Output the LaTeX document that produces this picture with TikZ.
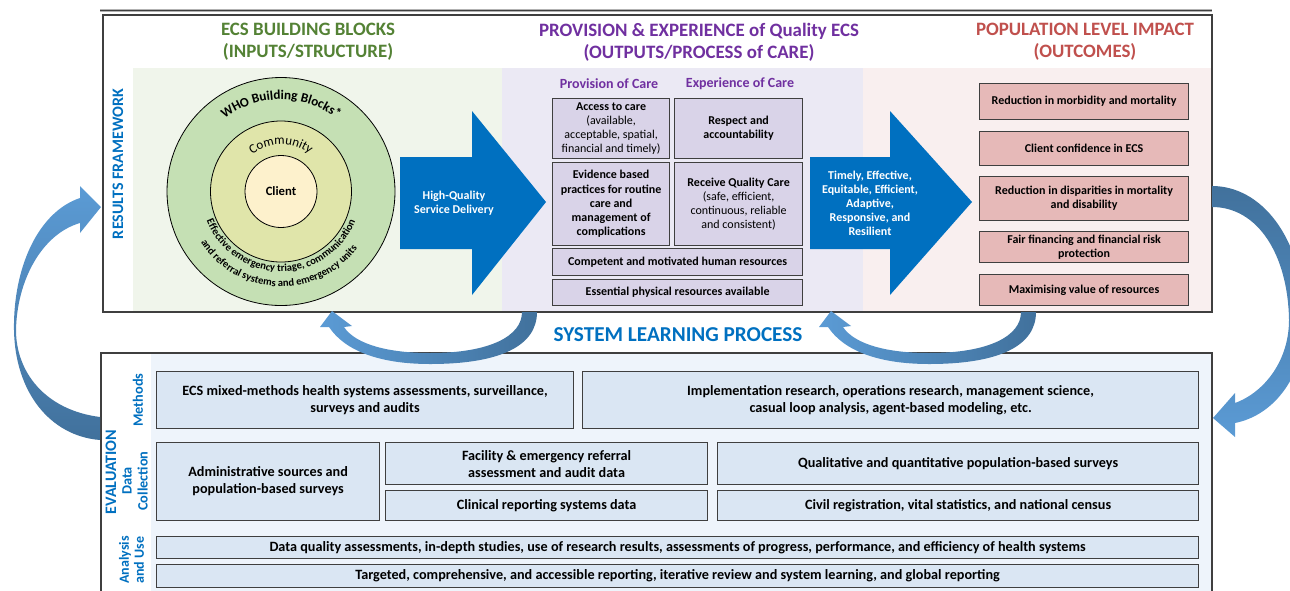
\documentclass[tikz,border=0pt]{standalone}
\usepackage{fontspec}
\setmainfont{Carlito}
\usetikzlibrary{decorations.text}
\definecolor{ecsgreen}{HTML}{548235}
\definecolor{ecspurple}{HTML}{7030A0}
\definecolor{ecsred}{HTML}{C0504D}
\definecolor{ecsblue}{HTML}{0070C0}
\definecolor{greenbg}{HTML}{F0F5EB}
\definecolor{purplebg}{HTML}{EBE9F4}
\definecolor{pinkbg}{HTML}{F9EFEF}
\definecolor{purplebox}{HTML}{D9D3E8}
\definecolor{pinkbox}{HTML}{E6B9B8}
\definecolor{bluebg}{HTML}{EEF4FB}
\definecolor{bluebox}{HTML}{DAE6F3}
\definecolor{boxline}{HTML}{3F3F3F}
\definecolor{ringA}{HTML}{C5E0B4}
\definecolor{ringB}{HTML}{E0E5AA}
\definecolor{ringC}{HTML}{FDF1CC}
\definecolor{arrdark}{HTML}{41719C}
\definecolor{arrlight}{HTML}{5B9BD5}
\tikzset{
  basebox/.style={draw=boxline, line width=1.2pt, inner sep=0pt, anchor=north west, align=center},
  pbox/.style={basebox, fill=purplebox, font=\fontsize{12}{14}\selectfont},
  pboxb/.style={pbox, font=\bfseries\fontsize{12}{14}\selectfont},
  obox/.style={basebox, fill=pinkbox, font=\bfseries\fontsize{12}{14}\selectfont},
  ebox/.style={basebox, fill=bluebox, font=\bfseries\fontsize{14.2}{17}\selectfont},
  head/.style={font=\bfseries\fontsize{18.9}{22}\selectfont, align=center},
  subhead/.style={font=\bfseries\fontsize{14}{16}\selectfont, text=ecspurple},
  arrtext/.style={font=\bfseries\fontsize{12}{14}\selectfont, text=white, align=center},
  sidelabel/.style={font=\bfseries, text=ecsblue, rotate=90, align=center},
}
\begin{document}
\begin{tikzpicture}[x=1pt,y=-1pt]
\useasboundingbox (0,0) rectangle (1290,590);
% top rule
\draw[gray!60, line width=3.5pt] (100,10.5) -- (1212,10.5);
\draw[black!75, line width=1pt] (100,10.5) -- (1212,10.5);

% ---------------- top frame ----------------
\fill[white] (103,15) rectangle (1212,312);
\fill[greenbg] (133,68) rectangle (502,311);
\fill[purplebg] (502,68) rectangle (863,311);
\fill[pinkbg] (863,68) rectangle (1211,311);
\draw[boxline, line width=1.3pt] (103,15) rectangle (1212,312);

\node[head, text=ecsgreen] (h1) at (308,42) {ECS BUILDING BLOCKS\\(INPUTS/STRUCTURE)};
\node[head, text=ecspurple] (h2) at (699,42) {PROVISION \& EXPERIENCE of Quality ECS\\(OUTPUTS/PROCESS of CARE)};
\node[head, text=ecsred] (h3) at (1085,42) {POPULATION LEVEL IMPACT\\(OUTCOMES)};
\node[sidelabel, font=\bfseries\fontsize{16}{18}\selectfont] (rf) at (118,164) {RESULTS FRAMEWORK};

% circles
\coordinate (cc) at (281,191.5);
\filldraw[fill=ringA, draw=black, line width=0.8pt] (cc) circle[radius=114pt];
\filldraw[fill=ringB, draw=black, line width=0.8pt] (cc) circle[radius=70.5pt];
\filldraw[fill=ringC, draw=black, line width=0.8pt] (cc) circle[radius=36pt];
\node[font=\bfseries\fontsize{12.7}{14}\selectfont] (client) at (cc) {Client};
\path[decorate, decoration={text along path, text align=center,
  text={|\bfseries\fontsize{13.2}{15}\selectfont|WHO Building Blocks*}}]
  (cc) ++(165:92pt) arc[start angle=165, end angle=15, radius=92pt];
\path[decorate, decoration={text along path, text align=center,
  text={|\fontsize{13}{15}\selectfont|Community}}]
  (cc) ++(155:47pt) arc[start angle=155, end angle=25, radius=47pt];
\path[decorate, decoration={text along path, text align=center,
  text={|\bfseries\fontsize{10.6}{12}\selectfont|Effective emergency triage, communication}}]
  (cc) ++(190:80pt) arc[start angle=190, end angle=350, radius=80pt];
\path[decorate, decoration={text along path, text align=center,
  text={|\bfseries\fontsize{10.6}{12}\selectfont|and referral systems and emergency units}}]
  (cc) ++(198:95pt) arc[start angle=198, end angle=338, radius=95pt];

% big arrows
\fill[ecsblue] (400,157) -- (472,157) -- (472,111) -- (546,202) -- (472,295) -- (472,249) -- (400,249) -- cycle;
\node[arrtext] (hq) at (454,203) {High-Quality\\Service Delivery};
\fill[ecsblue] (810,157) -- (890,157) -- (890,111) -- (972,202) -- (890,295) -- (890,249) -- (810,249) -- cycle;
\node[arrtext] (tq) at (870,203) {Timely, Effective,\\Equitable, Efficient,\\Adaptive,\\Responsive, and\\Resilient};

% provision / experience
\node[subhead] (poc) at (609,84) {Provision of Care};
\node[subhead] (eoc) at (740,84) {Experience of Care};
\node[pbox, minimum width=117pt, minimum height=60pt] (acc) at (552,98)
  {\textbf{Access to care}\\(available,\\acceptable, spatial,\\financial and timely)};
\node[pboxb, minimum width=128pt, minimum height=60pt] (resp) at (674,98)
  {Respect and\\accountability};
\node[pboxb, font=\bfseries\fontsize{12}{14.3}\selectfont, minimum width=117pt, minimum height=83pt] (evid) at (552,162)
  {Evidence based\\practices for routine\\care and\\management of\\complications};
\node[pbox, minimum width=128pt, minimum height=83pt] (recv) at (674,162)
  {\textbf{Receive Quality Care}\\(safe, efficient,\\continuous, reliable\\and consistent)};
\node[pboxb, minimum width=250pt, minimum height=27pt] (comp) at (552,248)
  {Competent and motivated human resources};
\node[pboxb, minimum width=250pt, minimum height=26pt] (ess) at (552,279)
  {Essential physical resources available};

% outcomes
\node[obox, minimum width=209pt, minimum height=36pt] (o1) at (979,83) {Reduction in morbidity and mortality};
\node[obox, minimum width=209pt, minimum height=34pt] (o2) at (979,131) {Client confidence in ECS};
\node[obox, minimum width=209pt, minimum height=44pt] (o3) at (979,176) {Reduction in disparities in mortality\\and disability};
\node[obox, minimum width=209pt, minimum height=31pt] (o4) at (979,231) {Fair financing and financial risk\\protection};
\node[obox, minimum width=209pt, minimum height=31pt] (o5) at (979,274) {Maximising value of resources};

% ---------------- system learning ----------------
\node[font=\bfseries\fontsize{21.2}{23}\selectfont, text=ecsblue] (slp) at (678,335) {SYSTEM LEARNING PROCESS};

% ---------------- bottom frame ----------------
\fill[white] (101,353) rectangle (1212,600);
\fill[bluebg] (151,354) rectangle (1211,600);
\draw[boxline, line width=1.3pt] (101,353) rectangle (1212,600);

\node[sidelabel, font=\bfseries\fontsize{16}{18}\selectfont] (ev) at (111,472) {EVALUATION};
\node[sidelabel, font=\bfseries\fontsize{14.3}{16}\selectfont] (meth) at (138,400) {Methods};
\node[sidelabel, font=\bfseries\fontsize{14.3}{16}\selectfont] (dc) at (135,481) {Data\\Collection};
\node[sidelabel, font=\bfseries\fontsize{14}{15}\selectfont] (au) at (131.5,560) {Analysis\\and Use};

\node[ebox, minimum width=417pt, minimum height=57pt] (m1) at (156,371)
  {ECS mixed-methods health systems assessments, surveillance,\\surveys and audits};
\node[ebox, minimum width=616pt, minimum height=57pt] (m2) at (582,371)
  {Implementation research, operations research, management science,\\casual loop analysis, agent-based modeling, etc.};
\node[ebox, minimum width=223pt, minimum height=78pt] (d1) at (156,442)
  {Administrative sources and\\population-based surveys};
\node[ebox, minimum width=322pt, minimum height=42pt] (d2) at (385,442)
  {Facility \& emergency referral\\assessment and audit data};
\node[ebox, minimum width=322pt, minimum height=30pt] (d3) at (385,490)
  {Clinical reporting systems data};
\node[ebox, minimum width=481pt, minimum height=42pt] (d4) at (717,442)
  {Qualitative and quantitative population-based surveys};
\node[ebox, minimum width=481pt, minimum height=30pt] (d5) at (717,490)
  {Civil registration, vital statistics, and national census};
\node[ebox, minimum width=1042pt, minimum height=22pt] (a1) at (156,536)
  {Data quality assessments, in-depth studies, use of research results, assessments of progress, performance, and efficiency of health systems};
\node[ebox, minimum width=1042pt, minimum height=23pt] (a2) at (156,564)
  {Targeted, comprehensive, and accessible reporting, iterative review and system learning, and global reporting};

% ---------------- curved arrows ----------------
% left: evaluation -> results framework
\shade[top color=arrlight, bottom color=arrdark]
  (100,417) .. controls (45,410) and (16,372) .. (16,330)
  .. controls (17,280) and (42,234) .. (80,223)
  -- (80,233) -- (101,207) -- (80,186) -- (80,198)
  .. controls (38,212) and (13,268) .. (14,330)
  .. controls (15,392) and (50,436) .. (100,440) -- cycle;
% right: results framework -> evaluation
\shade[top color=arrdark, bottom color=arrlight]
  (1212,186) .. controls (1260,186) and (1303,235) .. (1305,320)
  .. controls (1305,375) and (1275,415) .. (1235,423)
  -- (1235,437) -- (1213,418) -- (1235,393) -- (1235,403)
  .. controls (1265,392) and (1289,360) .. (1289,320)
  .. controls (1288,255) and (1258,207) .. (1212,207) -- cycle;
% small loops
\foreach \dx in {0,499}{
\begin{scope}[xshift=\dx pt]
\shade[left color=arrlight, right color=arrdark]
  (522,312) .. controls (522,336) and (490,353) .. (430,353)
  .. controls (390,353) and (356,345) .. (344,327)
  -- (352,326) -- (332,311) -- (320,327) -- (329,327)
  .. controls (345,351) and (380,364) .. (430,364)
  .. controls (500,364) and (537,346) .. (537,312) -- cycle;
\end{scope}}
\end{tikzpicture}
\end{document}
